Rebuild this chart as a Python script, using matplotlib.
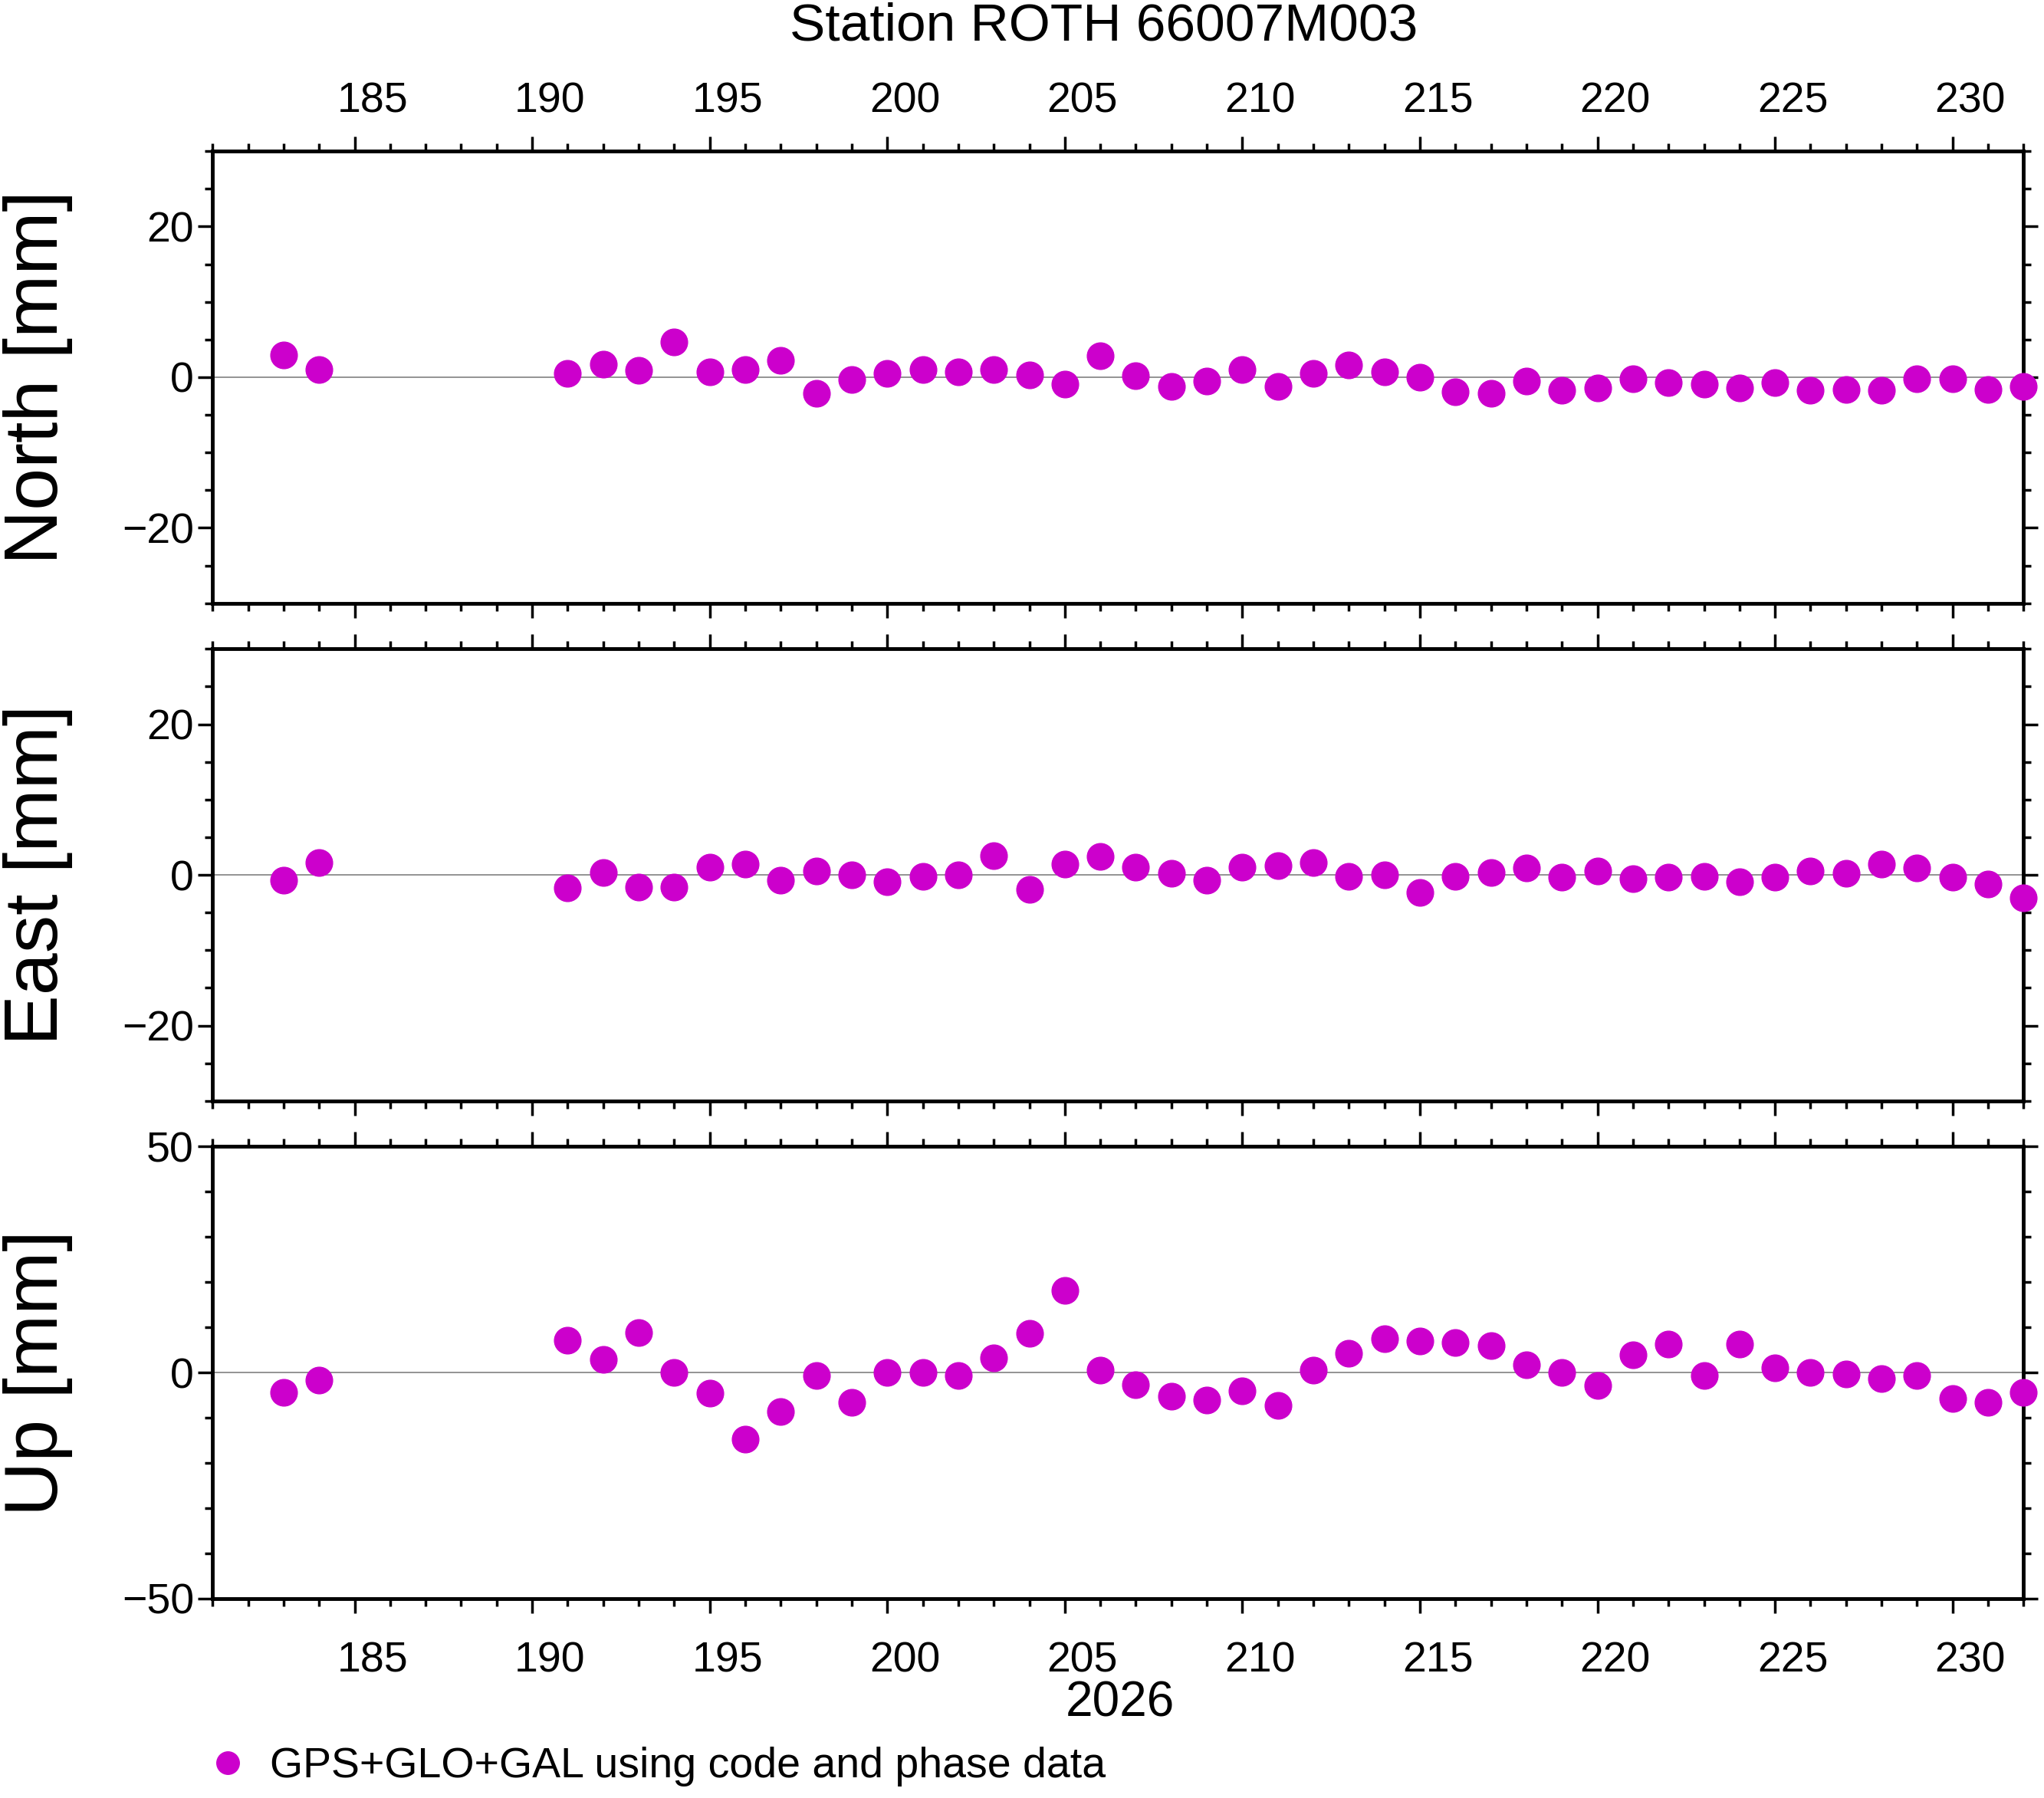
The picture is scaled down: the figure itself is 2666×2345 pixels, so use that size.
import matplotlib
matplotlib.use("Agg")
import matplotlib.pyplot as plt
from matplotlib.ticker import MultipleLocator, FixedLocator, NullFormatter, FixedFormatter

plt.rcParams['font.family'] = ['Liberation Sans', 'DejaVu Sans']

days = [183, 184] + list(range(191, 233))
north = [2.9, 1.0, 0.5, 1.7, 0.9, 4.7, 0.7, 1.0, 2.2, -2.1, -0.3, 0.5, 1.0, 0.7, 1.0, 0.3,
         -0.9, 2.8, 0.2, -1.2, -0.5, 1.0, -1.2, 0.5, 1.6, 0.7, 0.0, -1.9, -2.1, -0.5, -1.7,
         -1.4, -0.2, -0.7, -0.9, -1.4, -0.7, -1.7, -1.6, -1.7, -0.2, -0.2, -1.6, -1.2]
east = [-0.7, 1.6, -1.7, 0.3, -1.6, -1.6, 1.0, 1.4, -0.7, 0.5, 0.0, -0.9, -0.2, 0.0, 2.6,
        -1.9, 1.4, 2.4, 1.0, 0.2, -0.7, 1.0, 1.2, 1.6, -0.2, 0.0, -2.3, -0.2, 0.3, 0.9, -0.3,
        0.5, -0.5, -0.3, -0.2, -0.9, -0.3, 0.5, 0.2, 1.4, 0.9, -0.3, -1.2, -3.0]
up = [-4.3, -1.7, 7.2, 2.9, 8.9, 0.0, -4.6, -14.7, -8.6, -0.6, -6.6, 0.0, 0.0, -0.6, 3.2,
      8.6, 18.1, 0.6, -2.6, -5.2, -6.0, -4.0, -7.2, 0.6, 4.3, 7.5, 6.9, 6.6, 6.0, 1.7, 0.0,
      -2.9, 4.0, 6.3, -0.6, 6.3, 1.1, 0.0, -0.3, -1.4, -0.6, -5.7, -6.6, -4.3]
xtick_labels = [str(d) for d in range(185, 231, 5)]

color = '#CC00CC'
fig = plt.figure(figsize=(26.66, 23.45), dpi=100)
left, width, h = 0.104, 0.886, 0.2514
bottoms = [0.6645, 0.3877, 0.1109]
panels = [("North [mm]", north, (-30, 30), 20, 5),
          ("East [mm]", east, (-30, 30), 20, 5),
          ("Up [mm]", up, (-50, 50), 50, 10)]
axes = []
for i, ((lab, vals, yl, maj, mn), b) in enumerate(zip(panels, bottoms)):
    ax = fig.add_axes([left, b, width, h])
    ax.axhline(0, color='#808080', lw=1.2, zorder=1)
    ax.plot(days, vals, 'o', color=color, ms=25, mec=color, zorder=3, clip_on=False,
            label='GPS+GLO+GAL using code and phase data')
    ax.set_xlim(181, 232)
    ax.set_ylim(*yl)
    ax.yaxis.set_major_locator(MultipleLocator(maj))
    ax.yaxis.set_minor_locator(MultipleLocator(mn))
    ax.xaxis.set_major_locator(MultipleLocator(5))
    ax.xaxis.set_minor_locator(MultipleLocator(1))
    ax.xaxis.set_major_formatter(NullFormatter())
    ax.tick_params(which='both', direction='out', top=True, right=True, labelsize=40, width=2.5)
    ax.tick_params(which='major', length=14)
    ax.tick_params(which='minor', length=7)
    for s in ax.spines.values():
        s.set_linewidth(3.5)
    ax.set_ylabel(lab, fontsize=71)
    ax.yaxis.set_label_coords(-0.077, 0.5)
    ax.yaxis.set_major_formatter(plt.FuncFormatter(lambda v, p: f"{int(v)}".replace('-', '\u2212')))
    axes.append(ax)
    sec_pos = []
    if i == 0:
        sec_pos.append('top')
    if i == 2:
        sec_pos.append('bottom')
    for pos in sec_pos:
        sa = ax.secondary_xaxis(pos)
        sa.xaxis.set_major_locator(FixedLocator([d + 0.5 for d in range(185, 231, 5)]))
        sa.xaxis.set_major_formatter(FixedFormatter(xtick_labels))
        sa.tick_params(length=0, labelsize=40, pad=28 if pos == 'top' else 40)
        sa.spines[pos].set_visible(False)

fig.text(0.54, 0.999, "Station ROTH 66007M003", fontsize=50, ha='center', va='top')
fig.text(0.548, 0.040, "2026", fontsize=46, ha='center', va='bottom')
fig.legend(*axes[0].get_legend_handles_labels(), loc='lower left',
           bbox_to_anchor=(0.078, -0.008), frameon=False, fontsize=40,
           handletextpad=0.0, markerscale=0.85, borderaxespad=0.2)
fig.savefig("out.png", dpi=100)
